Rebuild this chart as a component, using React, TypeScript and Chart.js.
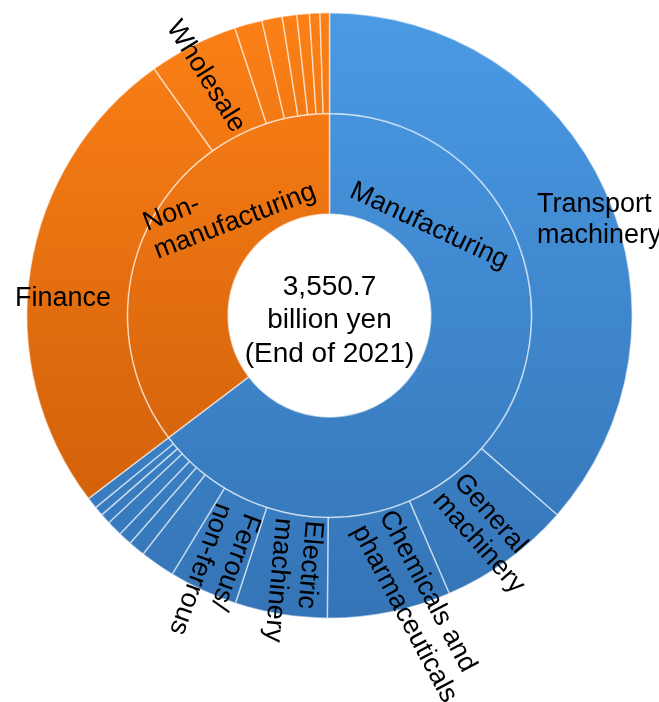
import React, { useEffect, useRef } from "react";
import { Chart, registerables } from "chart.js";

Chart.register(...registerables);

// Inner ring: industry groups (billion yen)
const groupLabels = ["Manufacturing", "Non-manufacturing"];
const groupValues = [2296.1, 1254.6];

// Outer ring: sectors (billion yen), clockwise from 12 o'clock
const sectorLabels = [
  "Transport machinery",
  "General machinery",
  "Chemicals and pharmaceuticals",
  "Electric machinery",
  "Ferrous/non-ferrous",
  "Other manufacturing 1",
  "Other manufacturing 2",
  "Other manufacturing 3",
  "Other manufacturing 4",
  "Other manufacturing 5",
  "Other manufacturing 6",
  "Other manufacturing 7",
  "Finance",
  "Wholesale",
  "Other non-manufacturing 1",
  "Other non-manufacturing 2",
  "Other non-manufacturing 3",
  "Other non-manufacturing 4",
  "Other non-manufacturing 5",
  "Other non-manufacturing 6",
];
const sectorValues = [
  1294.1, 251.5, 233.8, 174.6, 130.2, 66.1, 31.6, 25.6, 29.6, 19.7, 17.8, 21.5,
  905.4, 169.6, 52.3, 38.5, 27.6, 23.7, 19.7, 17.8,
];
const sectorGroup = [0, 0, 0, 0, 0, 0, 0, 0, 0, 0, 0, 0, 1, 1, 1, 1, 1, 1, 1, 1];

const centerLines = ["3,550.7", "billion yen", "(End of 2021)"];

// label text shown on the chart
const shownLabels: Record<string, string[]> = {
  "Transport machinery": ["Transport", "machinery"],
  "General machinery": ["General", "machinery"],
  "Chemicals and pharmaceuticals": ["Chemicals and", "pharmaceuticals"],
  "Electric machinery": ["Electric", "machinery"],
  "Ferrous/non-ferrous": ["Ferrous/", "non-ferrous"],
  Finance: ["Finance"],
  Wholesale: ["Wholesale"],
  Manufacturing: ["Manufacturing"],
  "Non-manufacturing": ["Non-", "manufacturing"],
};

// placement styles (offset from chart centre, rotation in degrees)
type LStyle = { dx: number; dy: number; rot: number; lh: number; align: CanvasTextAlign; base: CanvasTextBaseline };
const labelStyle: Record<string, LStyle> = {
  "Transport machinery": { dx: 207.5, dy: -103.5, rot: 0, lh: 31, align: "left", base: "alphabetic" },
  "General machinery": { dx: 123.5, dy: 167, rot: 48.7, lh: 28, align: "left", base: "alphabetic" },
  "Chemicals and pharmaceuticals": { dx: 49.5, dy: 200.5, rot: 62, lh: 31, align: "left", base: "alphabetic" },
  "Electric machinery": { dx: -23.5, dy: 204.5, rot: 95, lh: 30, align: "left", base: "alphabetic" },
  "Ferrous/non-ferrous": { dx: -84.5, dy: 196.5, rot: 110, lh: 30, align: "left", base: "alphabetic" },
  Finance: { dx: -314.5, dy: -9.5, rot: 0, lh: 30, align: "left", base: "alphabetic" },
  Wholesale: { dx: -163.5, dy: -288.5, rot: 58, lh: 30, align: "left", base: "alphabetic" },
  Manufacturing: { dx: 99.5, dy: -89.5, rot: 25, lh: 30, align: "center", base: "middle" },
  "Non-manufacturing": { dx: -182.5, dy: -84.5, rot: -21, lh: 30, align: "left", base: "alphabetic" },
};

const FONT = "'Liberation Sans', Arial, sans-serif";

const gradCache: Record<string, CanvasGradient> = {};
function groupFill(chart: any, g: number): string | CanvasGradient {
  const area = chart.chartArea;
  const base = g === 0 ? "#4290d8" : "#f0761a";
  if (!area) return base;
  const key = g + ":" + area.top + ":" + area.bottom;
  if (!gradCache[key]) {
    const gr = chart.ctx.createLinearGradient(0, area.top, 0, area.bottom);
    if (g === 0) {
      gr.addColorStop(0, "rgb(74,154,228)");
      gr.addColorStop(1, "rgb(52,116,182)");
    } else {
      gr.addColorStop(0, "rgb(252,128,22)");
      gr.addColorStop(1, "rgb(200,90,8)");
    }
    gradCache[key] = gr;
  }
  return gradCache[key];
}

const labelPlugin = {
  id: "sunburstLabels",
  afterDatasetsDraw(chart: any) {
    const c: CanvasRenderingContext2D = chart.ctx;
    const arc = chart.getDatasetMeta(0).data[0];
    if (!arc) return;
    const cx = arc.x;
    const cy = arc.y;
    c.save();
    c.fillStyle = "#000";
    c.font = `27px ${FONT}`;
    const names = [...sectorLabels, ...groupLabels];
    names.forEach((name) => {
      const lines = shownLabels[name];
      const st = labelStyle[name];
      if (!lines || !st) return;
      c.save();
      c.translate(cx + st.dx, cy + st.dy);
      c.rotate((st.rot * Math.PI) / 180);
      c.textAlign = st.align;
      c.textBaseline = st.base;
      lines.forEach((l, i) => c.fillText(l, 0, i * st.lh));
      c.restore();
    });
    // centre text
    c.font = `28px ${FONT}`;
    c.textAlign = "center";
    c.textBaseline = "alphabetic";
    const offs = [-20.5, 12.5, 46];
    centerLines.forEach((l, i) => c.fillText(l, cx, cy + offs[i]));
    c.restore();
  },
};

export default function App() {
  const ref = useRef<HTMLCanvasElement | null>(null);
  useEffect(() => {
    if (!ref.current) return;
    const chart = new Chart(ref.current, {
      type: "doughnut",
      data: {
        labels: sectorLabels,
        datasets: [
          {
            data: sectorValues,
            backgroundColor: (ctx: any) => groupFill(ctx.chart, sectorGroup[ctx.dataIndex] ?? 0),
            borderColor: "rgba(255,255,255,0.55)",
            borderWidth: 1.5,
          },
          {
            data: groupValues,
            backgroundColor: (ctx: any) => groupFill(ctx.chart, ctx.dataIndex),
            borderColor: "rgba(255,255,255,0.55)",
            borderWidth: 1.5,
          },
        ],
      },
      options: {
        responsive: false,
        animation: false,
        cutout: "33.5%",
        layout: { padding: { left: 26, right: 26, top: 12, bottom: 83 } },
        plugins: {
          legend: { display: false },
          tooltip: { enabled: false },
        },
        events: [],
      },
      plugins: [labelPlugin],
    });
    return () => chart.destroy();
  }, []);
  return (
    <div style={{ position: "absolute", left: 0, top: 0, width: 659, height: 702, background: "#fff" }}>
      <canvas ref={ref} width={659} height={702} style={{ display: "block" }} />
    </div>
  );
}
